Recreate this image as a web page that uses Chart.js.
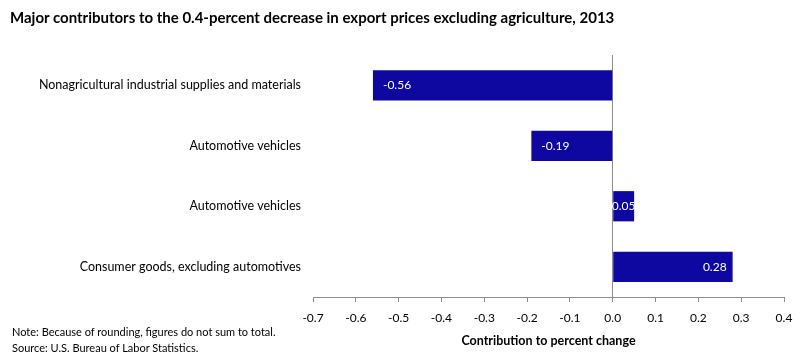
<!DOCTYPE html>
<html>
<head>
<meta charset="utf-8">
<script src="https://cdn.jsdelivr.net/npm/chart.js@4.4.0/dist/chart.umd.min.js"></script>
<style>
  html, body { margin: 0; padding: 0; background: #fff; }
  #wrap { position: relative; width: 802px; height: 362px; }
  #title { position: absolute; left: 10px; top: 8px; font: bold 15px Lato, sans-serif; color: #000; white-space: nowrap; }
  #note { position: absolute; left: 12px; top: 324px; font: 11px Lato, sans-serif; color: #000; line-height: 16px; white-space: nowrap; }
  canvas { position: absolute; left: 0; top: 0; }
</style>
</head>
<body>
<div id="wrap">
  <canvas id="chart" width="802" height="362"></canvas>
  <div id="title">Major contributors to the 0.4-percent decrease in export prices excluding agriculture, 2013</div>
  <div id="note">Note: Because of rounding, figures do not sum to total.<br>Source: U.S. Bureau of Labor Statistics.</div>
</div>
<script>
const categories = [
  'Nonagricultural industrial supplies and materials',
  'Automotive vehicles',
  'Automotive vehicles',
  'Consumer goods, excluding automotives'
];
const contributions = [-0.56, -0.19, 0.05, 0.28];
const axisTitle = 'Contribution to percent change';

const barColor = '#0e07a0';
const lineColor = '#8c8c8c';
const fontFamily = 'Lato, sans-serif';

const barLabels = {
  id: 'barLabels',
  afterDatasetsDraw(chart) {
    const ctx = chart.ctx;
    const meta = chart.getDatasetMeta(0);
    ctx.save();
    ctx.font = '12px ' + fontFamily;
    ctx.fillStyle = '#fff';
    ctx.textBaseline = 'middle';
    meta.data.forEach((bar, i) => {
      const v = contributions[i];
      const txt = v.toFixed(2);
      const left = Math.min(bar.x, bar.base);
      const right = Math.max(bar.x, bar.base);
      const w = ctx.measureText(txt).width;
      if (v < 0) {
        ctx.textAlign = 'left';
        ctx.fillText(txt, left + 10, bar.y);
      } else if (right - left > w + 12) {
        ctx.textAlign = 'right';
        ctx.fillText(txt, right - 6, bar.y);
      } else {
        ctx.textAlign = 'center';
        ctx.fillText(txt, (left + right) / 2, bar.y);
      }
    });
    ctx.restore();
  }
};

new Chart(document.getElementById('chart'), {
  type: 'bar',
  data: {
    labels: categories,
    datasets: [{
      data: contributions,
      backgroundColor: barColor,
      borderWidth: 0,
      barPercentage: 0.5,
      categoryPercentage: 1.0
    }]
  },
  options: {
    indexAxis: 'y',
    responsive: false,
    animation: false,
    layout: { padding: { top: 55, right: 18, left: 0, bottom: 0 } },
    plugins: { legend: { display: false }, tooltip: { enabled: false } },
    scales: {
      x: {
        min: -0.7, max: 0.4,
        afterFit: s => { s.height = 65; },
        border: { display: true, color: lineColor, width: 1 },
        grid: {
          drawOnChartArea: true,
          color: c => (Math.abs(c.tick.value) < 1e-9 ? lineColor : 'rgba(0,0,0,0)'),
          tickColor: lineColor,
          tickLength: 5
        },
        ticks: {
          stepSize: 0.1,
          padding: 9,
          color: '#000',
          font: { family: fontFamily, size: 12 },
          callback: v => (Math.abs(v) < 1e-9 ? '0.0' : v.toFixed(1))
        },
        title: {
          display: true,
          text: axisTitle,
          color: '#000',
          font: { family: fontFamily, size: 12.5, weight: 'bold' },
          padding: { top: 4, bottom: 14 }
        }
      },
      y: {
        afterFit: s => { s.width = 313; },
        border: { display: false },
        grid: { display: false },
        ticks: {
          padding: 4,
          color: '#000',
          font: { family: fontFamily, size: 12.5 }
        }
      }
    }
  },
  plugins: [barLabels]
});
</script>
</body>
</html>
